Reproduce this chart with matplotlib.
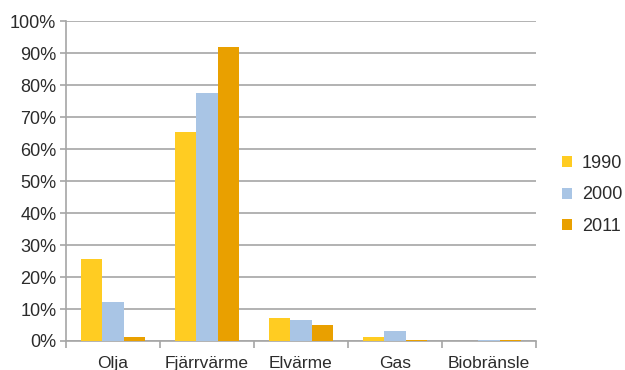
import matplotlib
matplotlib.use("Agg")
import matplotlib.pyplot as plt
import numpy as np
from matplotlib.ticker import FixedLocator, PercentFormatter

categories = ["Olja", "Fjärrvärme", "Elvärme", "Gas", "Biobränsle"]
years = ["1990", "2000", "2011"]
v1990 = [25.6, 65.3, 7.1, 1.4, 0.0]
v2000 = [12.3, 77.5, 6.6, 3.2, 0.3]
v2011 = [1.2, 91.9, 4.9, 0.4, 0.4]
colors = ["#FFCC22", "#A9C5E5", "#E9A000"]

plt.rcParams["font.family"] = ["Liberation Sans", "DejaVu Sans"]
text_c = "#2B2B2B"

fig = plt.figure(figsize=(6.25, 3.7), dpi=100)
ax = fig.add_axes([0.1056, 0.0784, 0.752, 0.8646])

x = np.arange(len(categories))
w = 0.225
grid_c = "#A6A6A6"
for i, (vals, c, lab) in enumerate(zip([v1990, v2000, v2011], colors, years)):
    ax.bar(x + (i - 1) * w, vals, width=w, color=c, label=lab, zorder=3)

ax.set_xlim(-0.5, len(categories) - 0.5)
ax.set_ylim(0, 100)
ax.set_yticks(np.arange(0, 101, 10))
ax.yaxis.set_major_formatter(PercentFormatter(decimals=0))
ax.yaxis.grid(True, color=grid_c, linewidth=1.2, zorder=0)

ax.set_xticks(x)
ax.set_xticklabels(categories)
ax.xaxis.set_minor_locator(FixedLocator(np.arange(-0.5, len(categories), 1.0)))
ax.tick_params(axis="x", which="major", length=0, pad=10.5, labelsize=12.5, colors=text_c)
ax.tick_params(axis="x", which="minor", length=5, color=grid_c, width=1.2)
ax.tick_params(axis="y", length=4, color=grid_c, width=1.2, labelsize=13, colors=text_c, pad=3)

for s in ["top", "right"]:
    ax.spines[s].set_visible(False)
for s in ["left", "bottom"]:
    ax.spines[s].set_color(grid_c)
    ax.spines[s].set_linewidth(1.2)

leg = fig.legend(loc="center left", bbox_to_anchor=(0.873, 0.473),
                 bbox_transform=fig.transFigure, frameon=False,
                 fontsize=13, handlelength=0.55, handleheight=0.55,
                 handletextpad=0.55, labelspacing=0.82)
for t in leg.get_texts():
    t.set_color(text_c)

fig.savefig("out.png", dpi=100)
